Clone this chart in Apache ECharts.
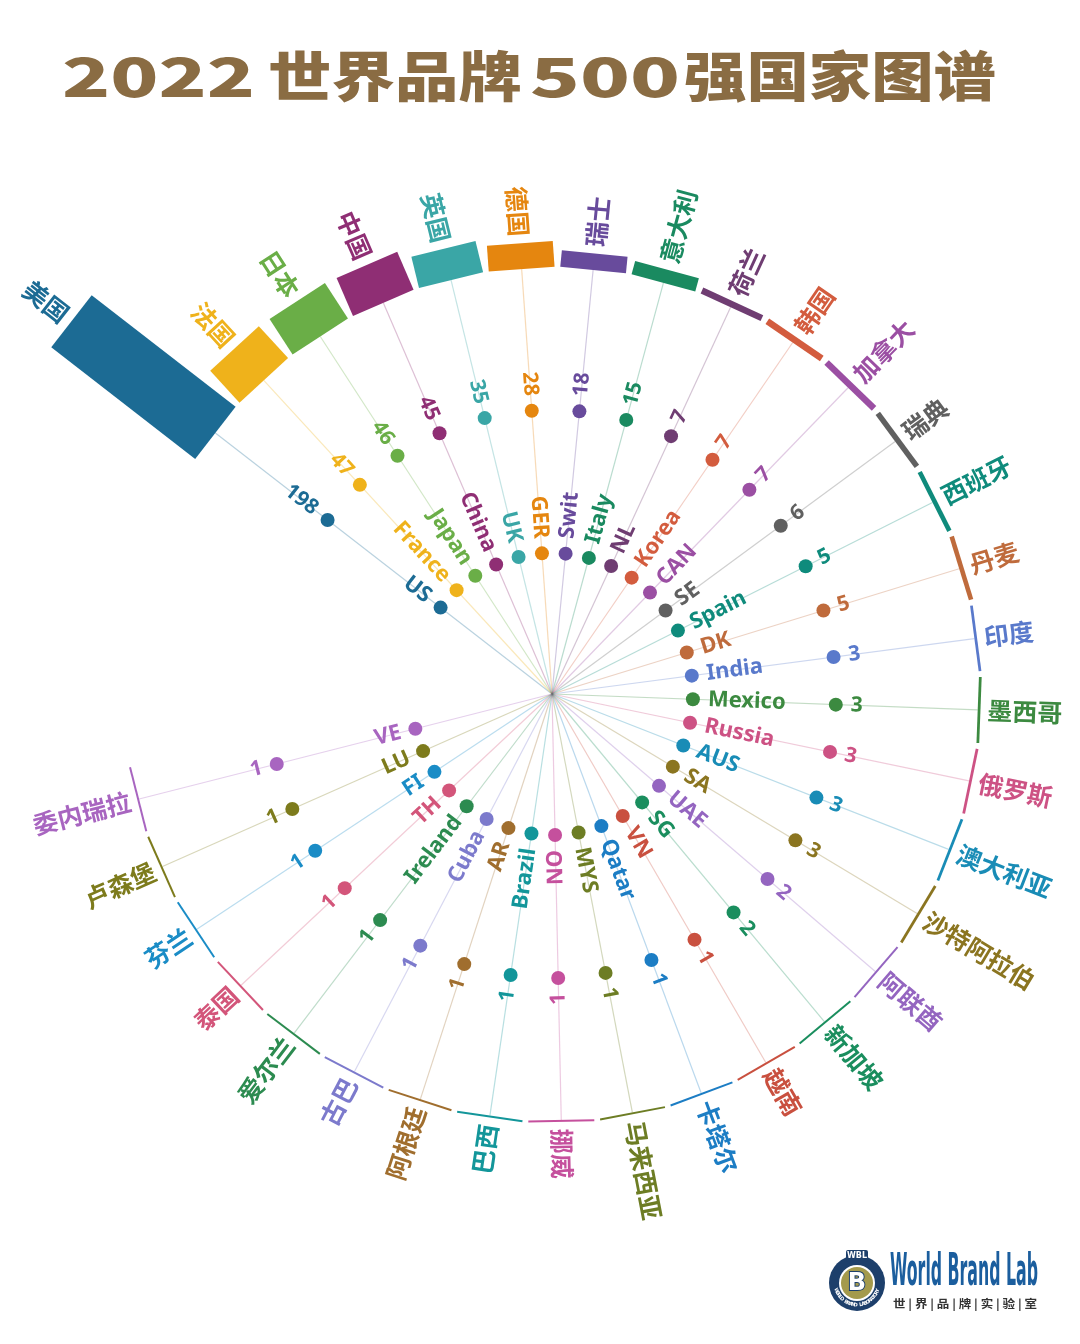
<!DOCTYPE html>
<html><head><meta charset="utf-8">
<style>html,body{margin:0;padding:0;background:#fff;}#chart{width:1080px;height:1344px;}</style>
<script src="https://cdn.jsdelivr.net/npm/echarts@6/dist/echarts.min.js"></script>
</head><body><div id="chart"></div>
<script>
// ---- data ----
const codes = ['US','France','Japan','China','UK','GER','Swit','Italy','NL','Korea','CAN','SE','Spain','DK','India','Mexico','Russia','AUS','SA','UAE','SG','VN','Qatar','MYS','NO','Brazil','AR','Cuba','Ireland','TH','FI','LU','VE'];
const names = ['美国','法国','日本','中国','英国','德国','瑞士','意大利','荷兰','韩国','加拿大','瑞典','西班牙','丹麦','印度','墨西哥','俄罗斯','澳大利亚','沙特阿拉伯','阿联酋','新加坡','越南','卡塔尔','马来西亚','挪威','巴西','阿根廷','古巴','爱尔兰','泰国','芬兰','卢森堡','委内瑞拉'];
const values = [198,47,46,45,35,28,18,15,7,7,7,6,5,5,3,3,3,3,3,2,2,1,1,1,1,1,1,1,1,1,1,1,1];
const colors = ['#1c6b94','#efb21b','#6aae47','#8f2e74','#3aa6a6','#e5860f','#684b9c','#1a8a60','#6f3d72','#d35c3e','#9b4fa3','#606060','#0f8b7c','#bf6b3c','#5979cb','#3c8a40','#cd5284','#198cb6','#8b7520','#9465c0','#1a8e5e','#c9503f','#1c7dc4','#6d7d24','#c5509d','#13969a','#a06e2e','#7c7acc','#2c8b50','#d3557a','#1a8cc6','#7d7b1c','#a865c0'];
const titleParts = ['2022','世界品牌','500','强国家图谱'];

// ---- layout ----
const PX = 0.92;               // pixels per brand
const u = px => px / PX;
const R_MAX = 700;
const INNER_DOT = u(141), EN_LABEL = u(156), OUTER_DOT = u(284), VAL_LABEL = u(299), BASE = u(426), CN_GAP = u(7), MIN_BAR = u(2);
const BAR_W = 66;
const ANGLE_MAX = 360 / 9.623;

const chart = echarts.init(document.getElementById('chart'));
const mctx = document.createElement('canvas').getContext('2d');
function fit(text, font, target){ mctx.font = font; return target / mctx.measureText(text).width; }

function spokes(params, api){
  const i = api.value(1);
  const c = api.coord([0, i]), p = api.coord([BASE, i]);
  return {type:'line', shape:{x1:c[0],y1:c[1],x2:p[0],y2:p[1]}, style:{stroke:colors[i], lineWidth:1.2, opacity:0.3}, silent:true};
}

function marks(params, api){
  const v = api.value(0), i = api.value(1);
  const col = colors[i];
  const c = api.coord([0, i]), p0 = api.coord([BASE, i]);
  const dx = p0[0]-c[0], dy = p0[1]-c[1], L = Math.hypot(dx, dy);
  const ux = dx/L, uy = dy/L, nx = -uy, ny = ux;
  const th = Math.atan2(-uy, ux);
  const p1 = api.coord([BASE + Math.max(v, MIN_BAR), i]);
  const hw = BAR_W/2;
  const kids = [];
  kids.push({type:'polygon', shape:{points:[[p0[0]+nx*hw,p0[1]+ny*hw],[p1[0]+nx*hw,p1[1]+ny*hw],[p1[0]-nx*hw,p1[1]-ny*hw],[p0[0]-nx*hw,p0[1]-ny*hw]]}, style:{fill:col}});
  const d1 = api.coord([INNER_DOT, i]), d2 = api.coord([OUTER_DOT, i]);
  kids.push({type:'circle', shape:{cx:d1[0], cy:d1[1], r:7}, style:{fill:col}});
  kids.push({type:'circle', shape:{cx:d2[0], cy:d2[1], r:7}, style:{fill:col}});
  function label(text, r, font, right){
    const q = api.coord([r, i]);
    return {type:'text', x:q[0], y:q[1], rotation: right ? th : th - Math.PI,
      style:{text:text, fill:col, font:font, align: right?'left':'right', verticalAlign:'middle', textAlign: right?'left':'right', textVerticalAlign:'middle'}};
  }
  const rightEn = ux > 0.03, rightCn = ux > -0.03;
  kids.push(label(codes[i], EN_LABEL, 'bold 22px "Noto Sans"', rightEn));
  kids.push(label(String(v), VAL_LABEL, 'bold 21px "Noto Sans"', rightEn));
  kids.push(label(names[i], BASE + Math.max(v, MIN_BAR) + CN_GAP, 'bold 25px "Noto Sans CJK SC"', rightCn));
  return {type:'group', children:kids};
}

const data = values.map((v, i) => [v, i]);

// title pieces
const titleFont = '900 54px "Noto Sans CJK SC"';
const titleRanges = [[62,255],[268,522],[530,680],[684,996]];
const titleEls = titleParts.map((t, k) => ({
  type:'text', x:titleRanges[k][0], y:76, scaleX: fit(t, titleFont, titleRanges[k][1]-titleRanges[k][0]),
  style:{text:t, font:titleFont, fill:'#8a6c43', textAlign:'left', textVerticalAlign:'middle', align:'left', verticalAlign:'middle',
    textShadowColor:'#e3d5bd', textShadowOffsetX:2, textShadowOffsetY:2, textShadowBlur:0}
}));

// logo
const lx = 857, ly = 1283;
const ring = 'WORLD BRAND LABORATORY';
const ringEls = ring.split('').map((ch, k) => {
  const t = (200 + k*(140/(ring.length-1))) * Math.PI/180;
  const x = lx + 22*Math.cos(t), y = ly - 22*Math.sin(t);
  return {type:'text', x:x, y:y, rotation: t + Math.PI/2, style:{text:ch, font:'bold 5px "DejaVu Sans"', fill:'#fff', textAlign:'center', textVerticalAlign:'middle', align:'center', verticalAlign:'middle'}};
});
const wblFont = 'bold 44px "Liberation Sans Narrow", "DejaVu Sans Condensed", sans-serif';
const subFont = 'bold 11px "Noto Sans CJK SC"';
const subText = '世 | 界 | 品 | 牌 | 实 | 验 | 室';
const logoEls = [
  {type:'circle', shape:{cx:lx, cy:ly, r:28}, style:{fill:'#1d3f6b'}},
  {type:'rect', shape:{x:lx-11, y:ly-33, width:22, height:12, r:2}, style:{fill:'#1d3f6b'}},
  {type:'circle', shape:{cx:lx, cy:ly, r:18}, style:{fill:'#fff'}},
  {type:'circle', shape:{cx:lx, cy:ly, r:16}, style:{fill:'#a49a4c'}},
  {type:'text', x:lx, y:ly+1, style:{text:'B', font:'bold 24px "DejaVu Sans"', fill:'#fff', stroke:'#1d3f6b', lineWidth:2, textAlign:'center', textVerticalAlign:'middle', align:'center', verticalAlign:'middle'}},
  {type:'text', x:lx, y:ly-27, style:{text:'WBL', font:'bold 8px "DejaVu Sans"', fill:'#fff', textAlign:'center', textVerticalAlign:'middle', align:'center', verticalAlign:'middle'}},
  ...ringEls,
  {type:'text', x:890, y:1274, scaleX: fit('World Brand Lab', wblFont, 148), style:{text:'World Brand Lab', font:wblFont, fill:'#1b5e9e', textAlign:'left', textVerticalAlign:'middle', align:'left', verticalAlign:'middle'}},
  {type:'text', x:893, y:1304, scaleX: fit(subText, subFont, 144), style:{text:subText, font:subFont, fill:'#333', textAlign:'left', textVerticalAlign:'middle', align:'left', verticalAlign:'middle'}}
];

chart.setOption({
  backgroundColor:'#ffffff',
  animation:false,
  polar:{center:[552,694], radius:R_MAX*PX},
  angleAxis:{type:'value', min:0, max:ANGLE_MAX, startAngle:142.2, clockwise:true, show:false},
  radiusAxis:{type:'value', min:0, max:R_MAX, show:false},
  graphic:{elements:[...titleEls, ...logoEls]},
  series:[
    {type:'custom', coordinateSystem:'polar', renderItem:spokes, data:data, silent:true, z:1},
    {type:'custom', coordinateSystem:'polar', renderItem:marks, data:data, silent:true, z:2}
  ]
});
</script></body></html>
